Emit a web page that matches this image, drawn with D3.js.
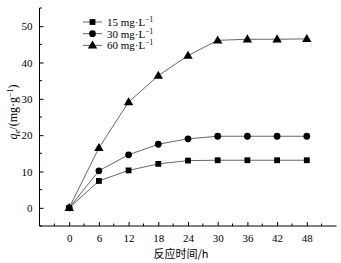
<!DOCTYPE html>
<html><head><meta charset="utf-8">
<script src="https://cdn.jsdelivr.net/npm/d3@7"></script>
<style>body{margin:0;background:#fff}</style>
</head><body>
<svg id="c" width="341" height="263"></svg>
<script>
const times = [0, 6, 12, 18, 24, 30, 36, 42, 48];
const s15 = [0, 7.4, 10.3, 12.1, 13.0, 13.1, 13.1, 13.1, 13.1];
const s30 = [0, 10.2, 14.6, 17.5, 19.0, 19.7, 19.7, 19.7, 19.7];
const s60 = [0, 16.5, 29.1, 36.4, 41.9, 46.1, 46.4, 46.4, 46.5];
const seriesNames = ["15 mg·L", "30 mg·L", "60 mg·L"];
const markers = ["square", "circle", "triangle"];
const xTicks = [0, 6, 12, 18, 24, 30, 36, 42, 48];
const yTicks = [0, 10, 20, 30, 40, 50];

const svg = d3.select("#c");
const font = "'Liberation Serif','Times New Roman',serif";
const x = d3.scaleLinear().domain([-6, 54]).range([39.5, 336.5]);
const y = d3.scaleLinear().domain([-5, 55]).range([226, 8]);

// axes
const xAxis = d3.axisBottom(x).tickValues(xTicks).tickSize(-4).tickPadding(8).tickFormat(d3.format("d"));
const gx = svg.append("g").attr("transform", `translate(0,${y(-5)})`).call(xAxis);
gx.select(".domain").attr("d", `M${x(-6)},0H${x(54)}`);
const xMinor = d3.range(-3, 54, 6);
gx.selectAll(".minor").data(xMinor).enter().append("line").attr("class","minor")
  .attr("x1", d => x(d)).attr("x2", d => x(d)).attr("y1", 0).attr("y2", -2.5).attr("stroke", "#000");

const yAxis = d3.axisLeft(y).tickValues(yTicks).tickSize(-4).tickPadding(7).tickFormat(d3.format("d"));
const gy = svg.append("g").attr("transform", `translate(${x(-6)},0)`).call(yAxis);
gy.select(".domain").attr("d", `M0,${y(-5)}V${y(55)}`);
const yMinor = d3.range(-5, 56, 10);
gy.selectAll(".minor").data(yMinor).enter().append("line").attr("class","minor")
  .attr("y1", d => y(d)).attr("y2", d => y(d)).attr("x1", 0).attr("x2", 2.5).attr("stroke", "#000");

svg.selectAll(".tick text").attr("font-family", font).attr("font-size", 11).attr("fill", "#000");
svg.selectAll(".domain, .tick line").attr("stroke", "#000");

// lines & markers
const allSeries = [s15, s30, s60];
const line = d3.line().x((d, i) => x(times[i])).y(d => y(d));
const sym = {square: d3.symbolSquare, circle: d3.symbolCircle, triangle: d3.symbolTriangle};
const sz = {square: 34, circle: 36, triangle: 38};
allSeries.forEach((s, k) => {
  svg.append("path").attr("d", line(s)).attr("fill", "none").attr("stroke", "#555").attr("stroke-width", 0.9);
  svg.append("g").selectAll("path").data(s).enter().append("path")
    .attr("transform", (d, i) => `translate(${x(times[i])},${y(d) + (markers[k] === "triangle" ? 0.5 : 0)})`)
    .attr("d", d3.symbol().type(sym[markers[k]]).size(sz[markers[k]]))
    .attr("fill", "#000");
});

// legend
const lg = svg.append("g");
seriesNames.forEach((n, k) => {
  const ly = 22 + k * 11.7;
  lg.append("line").attr("x1", 83).attr("x2", 102).attr("y1", ly).attr("y2", ly).attr("stroke", "#555").attr("stroke-width", 0.9);
  lg.append("path").attr("transform", `translate(92.5,${ly + (markers[k] === "triangle" ? 0.5 : 0)})`)
    .attr("d", d3.symbol().type(sym[markers[k]]).size(sz[markers[k]])).attr("fill", "#000");
  const t = lg.append("text").attr("x", 107).attr("y", ly + 4).attr("font-family", font).attr("font-size", 11);
  t.append("tspan").text(n);
  t.append("tspan").attr("dy", -4).attr("font-size", 7.5).text("−1");
});

// axis titles
svg.append("text").attr("x", 181).attr("y", 258).attr("text-anchor", "middle")
  .attr("font-family", "'Noto Sans CJK SC',sans-serif").attr("font-size", 11).attr("fill", "#000")
  .text("反应时间/h");

const yl = svg.append("text").attr("transform", "translate(17,112) rotate(-90)").attr("text-anchor", "middle")
  .attr("font-family", font).attr("font-size", 12).attr("fill", "#000");
yl.append("tspan").attr("font-style", "italic").text("q");
yl.append("tspan").attr("dy", 2.5).attr("font-size", 8.5).attr("font-style", "italic").text("e");
yl.append("tspan").attr("dy", -2.5).text("/(mg·g");
yl.append("tspan").attr("dy", -4).attr("font-size", 8).text("−1");
yl.append("tspan").attr("dy", 4).text(")");
</script>
</body></html>
